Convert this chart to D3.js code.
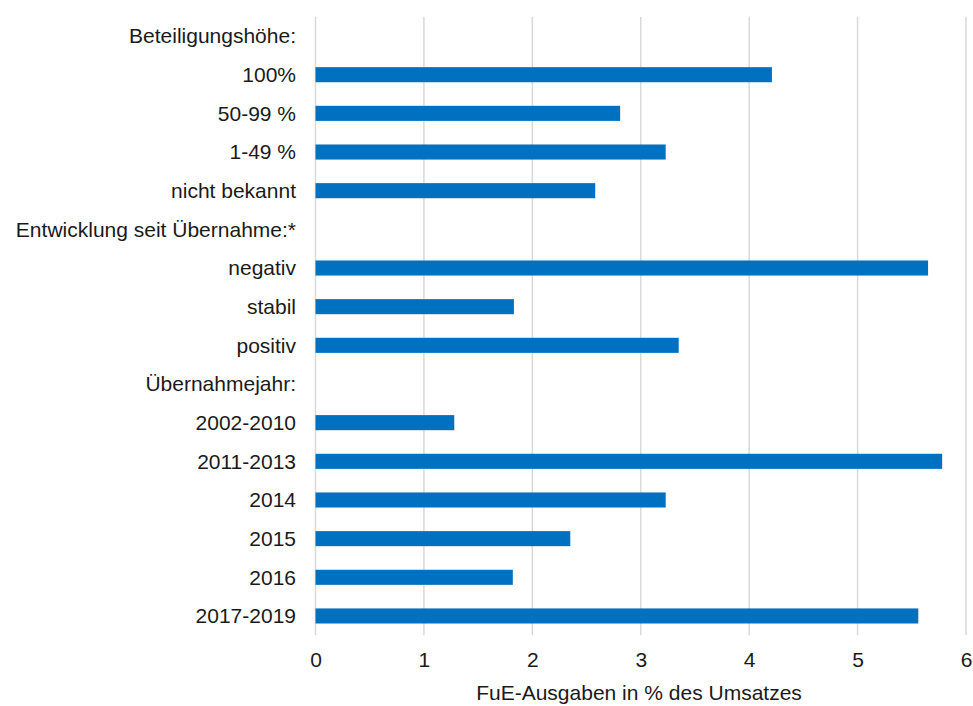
<!DOCTYPE html>
<html>
<head>
<meta charset="utf-8">
<script src="https://cdn.jsdelivr.net/npm/d3@7"></script>
<style>
  html, body { margin: 0; padding: 0; background: #fff; }
  svg { display: block; font-family: "Liberation Sans", Arial, sans-serif; }
</style>
</head>
<body>
<svg id="chart" width="973" height="706"></svg>
<script>
// Row labels (headers have no value)
const categories = [
  "Beteiligungshöhe:", "100%", "50-99 %", "1-49 %", "nicht bekannt",
  "Entwicklung seit Übernahme:*", "negativ", "stabil", "positiv",
  "Übernahmejahr:", "2002-2010", "2011-2013", "2014", "2015", "2016", "2017-2019"
];
// FuE-Ausgaben in % des Umsatzes
const values = [
  null, 4.21, 2.81, 3.23, 2.58,
  null, 5.65, 1.83, 3.35,
  null, 1.28, 5.78, 3.23, 2.35, 1.82, 5.56
];
const xTicks = [0, 1, 2, 3, 4, 5, 6];
const axisTitle = "FuE-Ausgaben in % des Umsatzes";

const FS = 21;
const svg = d3.select("#chart");
const x = d3.scaleLinear().domain([0, 6]).range([315.5, 966]);
const y = d3.scaleBand().domain(categories).range([16.7, 635.3])
  .paddingInner(0.61).paddingOuter(0.305);

// vertical gridlines
svg.append("g").selectAll("line").data(xTicks).join("line")
  .attr("x1", d => x(d)).attr("x2", d => x(d))
  .attr("y1", 16.7).attr("y2", 635.3)
  .attr("stroke", "#d9d9d9").attr("stroke-width", 1.5);

// bars
const rows = categories.map((c, i) => ({ c, v: values[i] })).filter(d => d.v != null);
svg.append("g").selectAll("rect").data(rows).join("rect")
  .attr("x", x(0))
  .attr("y", d => y(d.c))
  .attr("width", d => x(d.v) - x(0))
  .attr("height", y.bandwidth())
  .attr("fill", "#0070C0");

// category labels
svg.append("g").selectAll("text").data(categories).join("text")
  .attr("x", 296)
  .attr("y", d => y(d) + y.bandwidth() / 2)
  .attr("dy", "0.35em")
  .attr("text-anchor", "end")
  .attr("font-size", FS)
  .attr("fill", "#1a1a1a")
  .text(d => d);

// x axis tick labels
const xAxis = d3.axisBottom(x).tickValues(xTicks).tickSize(0).tickPadding(0).tickFormat(d3.format("d"));
const gx = svg.append("g").attr("transform", "translate(0,652)").call(xAxis);
gx.select(".domain").remove();
gx.selectAll("text").attr("font-size", FS).attr("fill", "#1a1a1a")
  .attr("font-family", "'Liberation Sans', Arial, sans-serif");

// axis title
svg.append("text")
  .attr("x", 639).attr("y", 693).attr("dy", "0.35em")
  .attr("text-anchor", "middle")
  .attr("font-size", FS).attr("fill", "#1a1a1a")
  .text(axisTitle);
</script>
</body>
</html>
